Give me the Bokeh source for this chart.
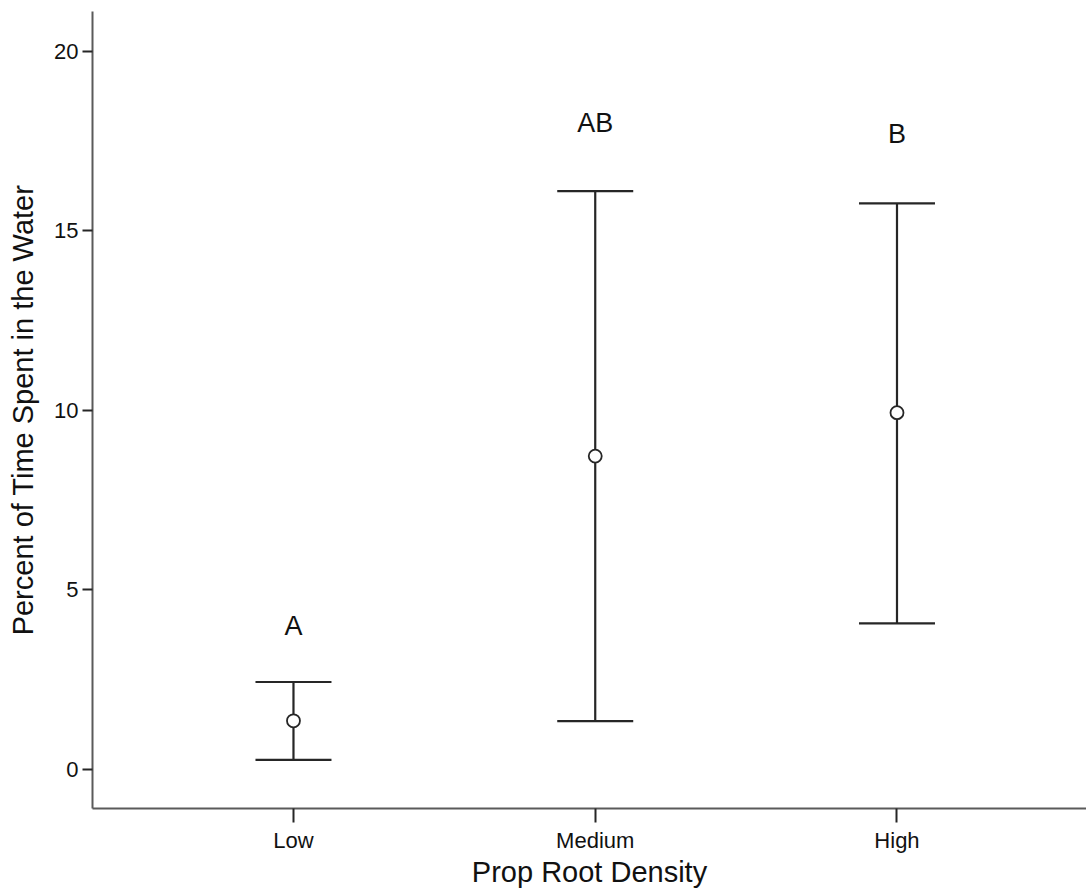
from bokeh.plotting import figure
from bokeh.models import ColumnDataSource, Whisker, TeeHead, Range1d, FixedTicker
from bokeh.core.properties import value
from bokeh.embed import file_html
from bokeh.resources import INLINE

categories = ["Low", "Medium", "High"]
means = [1.35, 8.72, 9.93]
upper = [2.43, 16.1, 15.76]
lower = [0.26, 1.34, 4.06]
letters = ["A", "AB", "B"]
letter_y = [4.0, 18.0, 17.7]
y_ticks = [0, 5, 10, 15, 20]

xs = list(range(1, len(categories) + 1))

FONT = "Liberation Sans"
INK = "#262626"

p = figure(width=1086, height=890, output_backend="svg", toolbar_location=None,
           x_range=Range1d(0.334, 3.628), y_range=Range1d(-1.092, 21.1),
           min_border_left=92, min_border_right=0, min_border_top=11, min_border_bottom=80)
p.outline_line_color = None
p.xgrid.visible = False
p.ygrid.visible = False
p.background_fill_color = "white"
p.border_fill_color = "white"

src = ColumnDataSource(dict(x=xs, mean=means, upper=upper, lower=lower,
                            letter=letters, ly=letter_y))

w = Whisker(base="x", upper="upper", lower="lower", source=src,
            line_color=INK, line_width=2.2,
            upper_head=TeeHead(size=76, line_color=INK, line_width=2.2),
            lower_head=TeeHead(size=76, line_color=INK, line_width=2.2))
p.add_layout(w)

p.scatter("x", "mean", source=src, marker="circle", size=13, fill_color="white",
          line_color=INK, line_width=1.8)

p.text("x", "ly", text="letter", source=src, text_align="center", text_baseline="middle",
       text_font_size="27px", text_color="#111111", text_font=value(FONT))

# axes
p.xaxis.ticker = FixedTicker(ticks=xs)
p.xaxis.major_label_overrides = {x: c for x, c in zip(xs, categories)}
p.yaxis.ticker = FixedTicker(ticks=y_ticks)
p.xaxis.minor_tick_line_color = None
p.yaxis.minor_tick_line_color = None
for ax in (p.xaxis, p.yaxis):
    ax.axis_line_color = "#5a5a5a"
    ax.axis_line_width = 2
    ax.major_tick_line_color = INK
    ax.major_tick_line_width = 2
    ax.major_tick_in = 0
    ax.major_label_text_font = FONT
    ax.major_label_text_font_size = "22px"
    ax.major_label_text_color = "#111111"
    ax.axis_label_text_font = FONT
    ax.axis_label_text_font_size = "29px"
    ax.axis_label_text_font_style = "normal"
    ax.axis_label_text_color = "#111111"
p.xaxis.major_tick_out = 14
p.yaxis.major_tick_out = 10
p.xaxis.major_label_standoff = 5
p.yaxis.major_label_standoff = 4
p.xaxis.axis_label = "Prop Root Density"
p.yaxis.axis_label = "Percent of Time Spent in the Water"
p.xaxis.axis_label_standoff = 0
p.yaxis.axis_label_standoff = 12

open("out.html", "w").write(file_html(p, INLINE))
